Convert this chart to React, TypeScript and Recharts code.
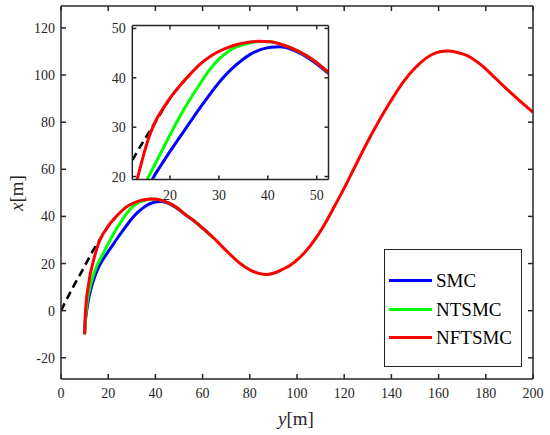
import React from 'react';
import { LineChart, Line, XAxis, YAxis, CartesianGrid, Legend } from 'recharts';

// points as [y, x]: y runs horizontally, x vertically
const REF: [number, number][] = [
  [0, 0], [5, 9.8], [9, 17], [13, 24.5], [17, 31], [20, 35.8], [23, 39.5],
];

const SMC: [number, number][] = [
  [10, -10], [10.3, -5], [10.9, 0], [11.7, 5], [12.9, 10], [14.5, 15], [16.5, 19.6],
  [18.5, 22.8], [20.5, 25.8], [22.5, 28.7], [24.5, 31.6], [26.5, 34.4], [28.5, 37.1],
  [30.5, 39.6], [32.5, 41.7], [34.5, 43.4], [36.5, 44.8], [38.5, 45.7], [40.6, 46.2],
  [42.5, 46.3], [44.5, 45.9], [47, 44.8], [50, 42.8], [52.4, 40.9], [56.8, 37.7],
  [60.5, 34.6], [64.5, 31],
];

const NTSMC: [number, number][] = [
  [10, -10], [10.25, -5], [10.7, 0], [11.3, 5], [12.3, 10], [13.7, 15], [15.45, 19.6],
  [17, 22.6], [18.6, 25.7], [20.3, 29], [22.1, 32.3], [24, 35.5], [26, 38.6], [28, 41.5],
  [30, 43.8], [32, 45.4], [34, 46.4], [36, 47], [38.2, 47.35], [40.5, 47.3], [43, 46.7],
  [46, 45.5], [49, 43.8], [52.4, 41.1], [56.8, 37.8], [60.5, 34.6], [64.5, 31],
];

const NFTSMC: [number, number][] = [
  [10, -10], [10.15, -5], [10.4, 0], [10.8, 5], [11.5, 10], [12.3, 15], [13.35, 19.6],
  [14.5, 24], [15.9, 28.5], [17.2, 31.5], [18.6, 33.8], [20.3, 36.3], [22.1, 38.5],
  [24, 40.6], [26, 42.6], [28.5, 44.5], [31, 45.8], [33.5, 46.7], [36, 47.2], [38.2, 47.4],
  [40.5, 47.3], [43, 46.7], [46, 45.5], [49, 43.8], [52.4, 41.1], [56.8, 37.8], [60.5, 34.6],
  [64.5, 31], [70, 25.5], [75.8, 20.1], [80, 17.3], [84, 15.8], [87.6, 15.4], [91, 16.2],
  [94, 17.6], [97, 19.2], [101, 22.4], [105.5, 27.4], [109, 32.3], [112.6, 38.2], [116, 44.5],
  [120, 52], [124, 60], [128, 68], [132, 75.6], [136.6, 83.8], [141, 91], [145.3, 97.4],
  [149.3, 102.2], [153, 105.8], [157, 108.6], [160.5, 109.9], [163.8, 110.2], [168, 109.6],
  [171.9, 108.3], [175.5, 106.2], [178.9, 103.6], [182.5, 100.2], [186, 96.8], [189.5, 93.5],
  [193.1, 90.2], [196.5, 87.2], [200, 84.2],
];

const mainXTicks = [0, 20, 40, 60, 80, 100, 120, 140, 160, 180, 200];
const mainYTicks = [-20, 0, 20, 40, 60, 80, 100, 120];
const insetTicks = [20, 30, 40, 50];

const toRows = (pts: [number, number][]) => pts.map(([y, x]) => ({ y, x }));

const series = [
  { name: 'SMC', color: '#0000ff', rows: toRows(SMC) },
  { name: 'NTSMC', color: '#00ff00', rows: toRows(NTSMC) },
  { name: 'NFTSMC', color: '#ff0000', rows: toRows(NFTSMC) },
];
const refRows = toRows(REF);

const FONT = "'Liberation Serif', serif";
const AXIS = '#262626';
const tickStyle = { fill: AXIS, fontSize: 14, fontFamily: FONT };
const lineStyle = { stroke: AXIS, strokeWidth: 1.5 };
const blank = () => '';

// legend drawn in series order (recharts hands the payload back reversed)
const LegendBox = () => (
  <div
    style={{
      width: 138, height: 118, boxSizing: 'border-box', border: `1.5px solid ${AXIS}`,
      background: '#fff', paddingTop: 16, fontFamily: FONT,
    }}
  >
    {series.map((s) => (
      <div key={s.name} style={{ height: 28.7, display: 'flex', alignItems: 'center' }}>
        <div style={{ width: 43, height: 3, marginLeft: 4, background: s.color }} />
        <span style={{ marginLeft: 4, fontSize: 19, color: '#000', lineHeight: '19px' }}>{s.name}</span>
      </div>
    ))}
  </div>
);

const curves = (withLegend: boolean) => [
  <Line
    key="ref" data={refRows} dataKey="x" type="monotone" stroke="#000" strokeWidth={2.6}
    strokeDasharray="8 5" dot={false} legendType="none" isAnimationActive={false}
  />,
  ...series.map((s) => (
    <Line
      key={s.name} data={s.rows} dataKey="x" name={s.name} type="monotone" stroke={s.color}
      strokeWidth={3} dot={false} legendType={withLegend ? 'line' : 'none'} isAnimationActive={false}
    />
  )),
];

export default function App() {
  return (
    <div style={{ position: 'fixed', left: 0, top: 0, width: 550, height: 435, background: '#fff', fontFamily: FONT }}>
      <LineChart width={550} height={435} margin={{ top: 5, right: 16, bottom: 0, left: 0 }}>
        <XAxis
          type="number" dataKey="y" domain={[0, 200]} ticks={mainXTicks} interval={0} allowDataOverflow
          height={56} tickSize={-5} tickMargin={14} axisLine={lineStyle} tickLine={lineStyle} tick={tickStyle}
        />
        <XAxis
          xAxisId="top" orientation="top" type="number" dataKey="y" domain={[0, 200]} ticks={mainXTicks}
          interval={0} allowDataOverflow height={1} tickSize={-5} tickFormatter={blank}
          axisLine={lineStyle} tickLine={lineStyle}
        />
        <YAxis
          type="number" domain={[-29, 129.3]} ticks={mainYTicks} interval={0} allowDataOverflow
          width={61} tickSize={-5} tickMargin={11} axisLine={lineStyle} tickLine={lineStyle} tick={tickStyle}
        />
        <YAxis
          yAxisId="right" orientation="right" type="number" domain={[-29, 129.3]} ticks={mainYTicks}
          interval={0} allowDataOverflow width={1} tickSize={-5} tickFormatter={blank}
          axisLine={lineStyle} tickLine={lineStyle}
        />
        <Legend
          layout="vertical" align="center" verticalAlign="middle"
          wrapperStyle={{ left: 384, top: 249, width: 138, height: 118 }} content={LegendBox}
        />
        {curves(true)}
      </LineChart>

      {/* zoomed inset */}
      <div style={{ position: 'absolute', left: 92, top: 20, width: 250, height: 190 }}>
        <LineChart width={250} height={190} margin={{ top: 4.5, right: 12.5, bottom: 0, left: 0 }}>
          <CartesianGrid fill="#fff" stroke="none" />
          <XAxis
            type="number" dataKey="y" domain={[12.3, 52.4]} ticks={insetTicks} interval={0} allowDataOverflow
            height={30.5} tickSize={-4} tickMargin={15} axisLine={lineStyle} tickLine={lineStyle} tick={tickStyle}
          />
          <XAxis
            xAxisId="top" orientation="top" type="number" dataKey="y" domain={[12.3, 52.4]} ticks={insetTicks}
            interval={0} allowDataOverflow height={1} tickSize={-4} tickFormatter={blank}
            axisLine={lineStyle} tickLine={lineStyle}
          />
          <YAxis
            type="number" domain={[19.4, 50.6]} ticks={insetTicks} interval={0} allowDataOverflow
            width={40.3} tickSize={-4} tickMargin={10.6} axisLine={lineStyle} tickLine={lineStyle} tick={tickStyle}
          />
          <YAxis
            yAxisId="right" orientation="right" type="number" domain={[19.4, 50.6]} ticks={insetTicks}
            interval={0} allowDataOverflow width={1} tickSize={-4} tickFormatter={blank}
            axisLine={lineStyle} tickLine={lineStyle}
          />
          {curves(false)}
        </LineChart>
      </div>

      <div style={{ position: 'absolute', left: 296, top: 419, transform: 'translate(-50%, -50%)', fontSize: 19, whiteSpace: 'nowrap', color: AXIS }}>
        <i>y</i>[m]
      </div>
      <div style={{ position: 'absolute', left: 17, top: 193, transform: 'translate(-50%, -50%) rotate(-90deg)', fontSize: 19, whiteSpace: 'nowrap', color: AXIS }}>
        <i>x</i>[m]
      </div>
    </div>
  );
}
